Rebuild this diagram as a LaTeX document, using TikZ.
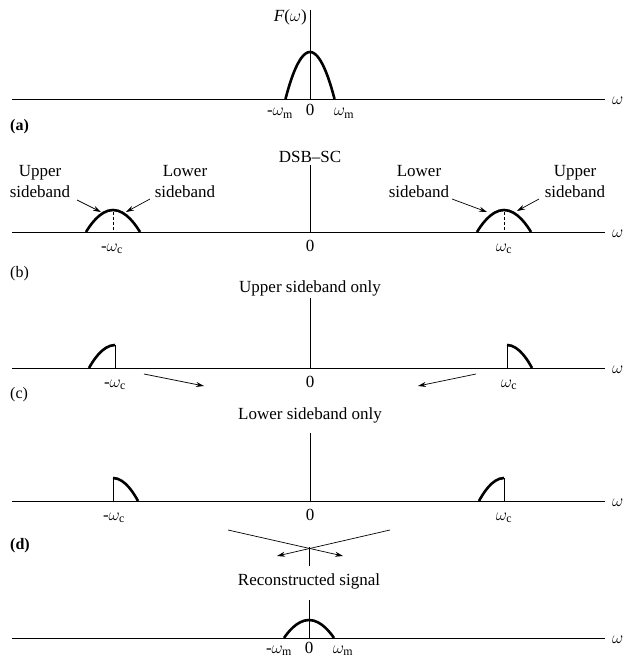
\documentclass[tikz,border=0pt]{standalone}
\usepackage{fontspec}
\setmainfont{Liberation Serif}
\usetikzlibrary{arrows.meta}
\begin{document}
\begin{tikzpicture}[x=1pt,y=-1pt,
  every node/.style={inner sep=0pt, font=\fontsize{17}{21}\selectfont},
  ax/.style={line width=0.9pt},
  spec/.style={line width=2.6pt},
  cline/.style={line width=0.7pt, dash pattern=on 3pt off 2pt},
  ptr/.style={line width=0.7pt, -{Stealth[length=8pt,width=5pt]}},
  tick/.style={anchor=base},
  wlab/.style={anchor=west},
  panel/.style={anchor=base west, font=\fontsize{16}{18}\selectfont\bfseries},
  sbl/.style={align=center, anchor=north},
]
\fill[white] (0,0) rectangle (624,658);
\useasboundingbox (0,0) rectangle (624,658);

% ---------------- (a) ----------------
\coordinate (aL) at (12,99);
\coordinate (aR) at (605,99);
\node[wlab] (aW) at (612,101) {$\omega$};
\draw[ax] (aL) -- (aR);
\coordinate (aTop) at (310,10);
\coordinate (aO) at (310,99);
\draw[ax] (aTop) -- (aO);
\node[anchor=base east] (aF) at (307,22) {\textit{F}($\omega$)};
\draw[spec] (285.5,99) parabola bend (310,52) (334.5,99);
\node[tick] (aml) at (280,116) {-$\omega_{\mathrm{m}}$};
\node[tick] (a0) at (310,116) {0};
\node[tick] (amr) at (344,116) {$\omega_{\mathrm{m}}$};
\node[panel] (pa) at (10,131) {(a)};

% ---------------- (b) ----------------
\coordinate (bL) at (12,232);
\coordinate (bR) at (605,232);
\node[wlab] (bW) at (612,234) {$\omega$};
\draw[ax] (bL) -- (bR);
\node[anchor=base] (bT) at (310,162) {DSB--SC};
\coordinate (bTop) at (310,165);
\coordinate (bO) at (310,232);
\draw[ax] (bTop) -- (bO);
\draw[spec] (86,232) parabola bend (113,210) (140,232);
\draw[spec] (477,232) parabola bend (504,210) (531,232);
\draw[cline] (113,212) -- (113,232);
\draw[cline] (504,212) -- (504,232);
\node[tick] (bml) at (112,251) {-$\omega_{\mathrm{c}}$};
\node[tick] (b0) at (310,251) {0};
\node[tick] (bmr) at (504,251) {$\omega_{\mathrm{c}}$};
\node[sbl] (bUL) at (40,165) {Upper\\sideband};
\node[sbl] (bLL) at (185,165) {Lower\\sideband};
\node[sbl] (bLR) at (419,165) {Lower\\sideband};
\node[sbl] (bUR) at (575,165) {Upper\\sideband};
\coordinate (b1s) at (77,200); \coordinate (b1e) at (101,212);
\coordinate (b2s) at (150,199); \coordinate (b2e) at (126,212);
\coordinate (b3s) at (452,199); \coordinate (b3e) at (487,212);
\coordinate (b4s) at (539,199); \coordinate (b4e) at (517,211);
\draw[ptr] (b1s) -- (b1e);
\draw[ptr] (b2s) -- (b2e);
\draw[ptr] (b3s) -- (b3e);
\draw[ptr] (b4s) -- (b4e);
\node[panel, font=\fontsize{16}{18}\selectfont] (pb) at (10,277) {(b)};

% ---------------- (c) ----------------
\node[anchor=base] (cT) at (310,292) {Upper sideband only};
\coordinate (cL) at (12,368);
\coordinate (cR) at (605,368);
\node[wlab] (cW) at (612,370) {$\omega$};
\draw[ax] (cL) -- (cR);
\coordinate (cTop) at (310,298);
\coordinate (cO) at (310,368);
\draw[ax] (cTop) -- (cO);
\draw[spec] (115,345) parabola (89,368);
\draw[ax] (115,345) -- (115,368);
\draw[spec] (507,345) parabola (532,368);
\draw[ax] (507,345) -- (507,368);
\node[tick] (cml) at (115,387) {-$\omega_{\mathrm{c}}$};
\node[tick] (c0) at (310,387) {0};
\node[tick] (cmr) at (509,387) {$\omega_{\mathrm{c}}$};
\coordinate (c1s) at (144,374); \coordinate (c1e) at (204,386);
\coordinate (c2s) at (476,374); \coordinate (c2e) at (418,386);
\draw[ptr] (c1s) -- (c1e);
\draw[ptr] (c2s) -- (c2e);
\node[panel, font=\fontsize{16}{18}\selectfont] (pc) at (10,398) {(c)};

% ---------------- (d) ----------------
\node[anchor=base] (dT) at (310,419) {Lower sideband only};
\coordinate (dL) at (12,501);
\coordinate (dR) at (605,501);
\node[wlab] (dW) at (612,503) {$\omega$};
\draw[ax] (dL) -- (dR);
\coordinate (dTop) at (310,433);
\coordinate (dO) at (310,501);
\draw[ax] (dTop) -- (dO);
\draw[spec] (113,478) parabola (138,501);
\draw[ax] (113,478) -- (113,501);
\draw[spec] (504,478) parabola (479,501);
\draw[ax] (504,478) -- (504,501);
\node[tick] (dml) at (114,520) {-$\omega_{\mathrm{c}}$};
\node[tick] (d0) at (310,520) {0};
\node[tick] (dmr) at (504,520) {$\omega_{\mathrm{c}}$};
\node[panel] (pd) at (10,549) {(d)};
\coordinate (x1s) at (228,530); \coordinate (x1e) at (343,556);
\coordinate (x2s) at (390,530); \coordinate (x2e) at (277,556);
\draw[ptr] (x1s) -- (x1e);
\draw[ptr] (x2s) -- (x2e);

% ---------------- reconstructed ----------------
\coordinate (eTop1) at (309,547);
\coordinate (eBot1) at (309,566);
\draw[ax] (eTop1) -- (eBot1);
\node[anchor=base] (eT) at (309,585) {Reconstructed signal};
\coordinate (eL) at (12,638);
\coordinate (eR) at (605,638);
\node[wlab] (eW) at (612,640) {$\omega$};
\draw[ax] (eL) -- (eR);
\coordinate (eTop) at (309,600);
\coordinate (eO) at (309,638);
\draw[ax] (eTop) -- (eO);
\draw[spec] (284,638) parabola bend (309,620) (334,638);
\node[tick] (eml) at (279,653) {-$\omega_{\mathrm{m}}$};
\node[tick] (e0) at (309,653) {0};
\node[tick] (emr) at (343,653) {$\omega_{\mathrm{m}}$};
\end{tikzpicture}
\end{document}
